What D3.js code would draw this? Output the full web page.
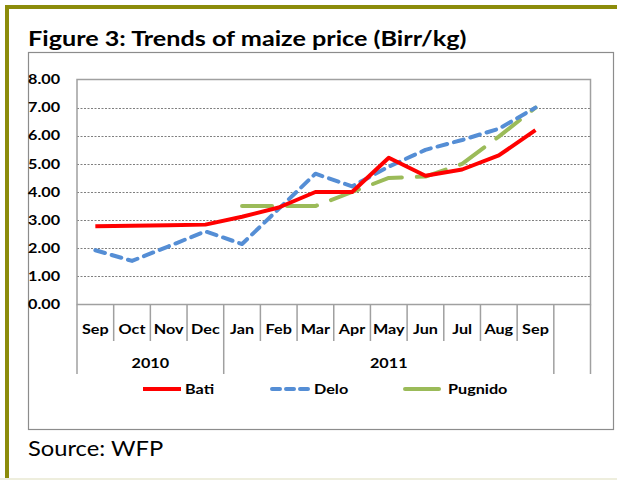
<!DOCTYPE html>
<html>
<head>
<meta charset="utf-8">
<script src="https://cdn.jsdelivr.net/npm/d3@7"></script>
<style>
  html, body { margin: 0; padding: 0; background: #fff; }
  svg { display: block; }
</style>
</head>
<body>
<div id="container"></div>
<script>
const months = ["Sep", "Oct", "Nov", "Dec", "Jan", "Feb", "Mar", "Apr", "May", "Jun", "Jul", "Aug", "Sep", ""];
const years = [
  { label: "2010", from: 0, to: 4 },
  { label: "2011", from: 4, to: 13 }
];
const bati = [2.78, 2.8, 2.82, 2.84, 3.12, 3.45, 4.0, 4.0, 5.22, 4.58, 4.8, 5.3, 6.2];
const delo = [1.93, 1.55, 2.07, 2.6, 2.15, 3.4, 4.65, 4.2, 4.9, 5.5, 5.85, 6.25, 7.0];
const pugnido = [null, null, null, null, 3.5, 3.5, 3.5, 4.0, 4.5, 4.55, 5.0, 5.97, 7.0];
const yTicks = [0, 1, 2, 3, 4, 5, 6, 7, 8];

const series = [
  { name: "Bati", values: bati, color: "#ff0000", dash: null, cap: "butt" },
  { name: "Delo", values: delo, color: "#558ed5", dash: "10,7", cap: "round" },
  { name: "Pugnido", values: pugnido, color: "#9bbb59", dash: "30,15", cap: "round" }
];

const chart = () => {
  const width = 617, height = 480;
  const font = "Lato, 'Open Sans', sans-serif";
  const sx = 1.2; // text in the picture is wider than Lato

  const place = (px, py, s = sx) => `translate(${px},${py}) scale(${s},1)`;

  const svg = d3.create("svg")
    .attr("width", width)
    .attr("height", height);

  // outer olive frame
  svg.append("rect").attr("x", 0).attr("y", 478).attr("width", width).attr("height", 2).attr("fill", "#eeeedd");
  svg.append("rect").attr("x", 5).attr("y", 5).attr("width", width - 5).attr("height", 4).attr("fill", "#8c8c0a");
  svg.append("rect").attr("x", 5).attr("y", 5).attr("width", 4).attr("height", 473).attr("fill", "#8c8c0a");

  svg.append("text")
    .attr("transform", place(28, 46))
    .attr("font-family", font).attr("font-weight", "bold").attr("font-size", 21)
    .attr("fill", "#000")
    .text("Figure 3: Trends of maize price (Birr/kg)");

  // chart box
  svg.append("rect")
    .attr("x", 28.5).attr("y", 52.5).attr("width", 585).attr("height", 377)
    .attr("fill", "#fff").attr("stroke", "#8c8c8c").attr("stroke-width", 1.2);

  const plot = { left: 77, top: 79.5, right: 590.5, bottom: 304.5 };

  const x = d3.scaleBand()
    .domain(d3.range(months.length))
    .range([plot.left, plot.right]);

  const y = d3.scaleLinear()
    .domain([0, 8])
    .range([plot.bottom, plot.top]);

  // gridlines
  svg.append("g")
    .selectAll("line")
    .data(yTicks.filter(d => d > 0 && d < 8))
    .join("line")
    .attr("x1", plot.left).attr("x2", plot.right)
    .attr("y1", d => Math.round(y(d)) + 0.5).attr("y2", d => Math.round(y(d)) + 0.5)
    .attr("stroke", "#7f7f7f").attr("stroke-width", 1).attr("stroke-dasharray", "2,1.5");

  // plot border
  svg.append("rect")
    .attr("x", plot.left).attr("y", plot.top)
    .attr("width", plot.right - plot.left).attr("height", plot.bottom - plot.top)
    .attr("fill", "none").attr("stroke", "#a0a0a0").attr("stroke-width", 1.5);

  // y labels
  svg.append("g")
    .attr("font-family", font).attr("font-weight", "bold").attr("font-size", 13.5)
    .selectAll("text")
    .data(yTicks)
    .join("text")
    .attr("transform", d => place(28, y(d)))
    .attr("dy", "0.35em")
    .text(d => d.toFixed(2));

  // category ticks
  const tickG = svg.append("g").attr("stroke", "#a0a0a0").attr("stroke-width", 1.5);
  const yearEdges = new Set([0, 4, 13, 14]);
  tickG.selectAll("line")
    .data(d3.range(months.length + 1))
    .join("line")
    .attr("x1", i => i < months.length ? x(i) : plot.right)
    .attr("x2", i => i < months.length ? x(i) : plot.right)
    .attr("y1", plot.bottom)
    .attr("y2", i => yearEdges.has(i) ? 374 : 341);

  svg.append("g")
    .attr("font-family", font).attr("font-weight", "bold").attr("font-size", 13.5)
    .attr("text-anchor", "middle")
    .selectAll("text")
    .data(months.map((m, i) => ({ m, i })))
    .join("text")
    .attr("transform", d => place(x(d.i) + x.bandwidth() / 2, 329))
    .attr("dy", "0.35em")
    .text(d => d.m);

  svg.append("g")
    .attr("font-family", font).attr("font-weight", "bold").attr("font-size", 13.5)
    .attr("text-anchor", "middle")
    .selectAll("text")
    .data(years)
    .join("text")
    .attr("transform", d => place((x(d.from) + x(d.to)) / 2, 363))
    .attr("dy", "0.35em")
    .text(d => d.label);

  // lines
  const line = d3.line()
    .defined(d => d != null)
    .x((d, i) => x(i) + x.bandwidth() / 2)
    .y(d => y(d));

  svg.append("g")
    .selectAll("path")
    .data(series.slice().reverse())
    .join("path")
    .attr("d", d => line(d.values))
    .attr("fill", "none")
    .attr("stroke", d => d.color)
    .attr("stroke-width", 4)
    .attr("stroke-linejoin", "round")
    .attr("stroke-linecap", d => d.cap)
    .attr("stroke-dasharray", d => d.dash);

  // legend
  const legendX = [143, 272, 405];
  const legend = svg.append("g")
    .selectAll("g")
    .data(series)
    .join("g")
    .attr("transform", (d, i) => `translate(${legendX[i]},389)`);
  legend.append("line")
    .attr("x1", 0).attr("x2", (d, i) => i === 2 ? 34 : 38)
    .attr("stroke", d => d.color).attr("stroke-width", 4)
    .attr("stroke-linecap", d => d.cap)
    .attr("stroke-dasharray", d => d.name === "Delo" ? "8,6" : null);
  legend.append("text")
    .attr("transform", (d, i) => place(i === 2 ? 43 : 42, 0))
    .attr("dy", "0.35em")
    .attr("font-family", font).attr("font-weight", "bold").attr("font-size", 13.5)
    .text(d => d.name);

  svg.append("text")
    .attr("transform", place(28, 456, 1.13))
    .attr("font-family", font).attr("font-size", 21)
    .text("Source: WFP");

  return svg.node();
};

const container = document.getElementById("container");
container.innerHTML = '';
container.appendChild(chart());
</script>
</body>
</html>
